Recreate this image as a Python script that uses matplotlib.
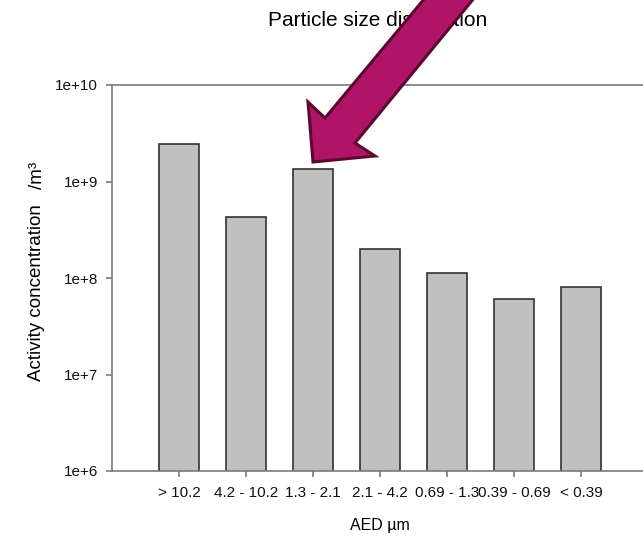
import matplotlib
matplotlib.use("Agg")
import matplotlib.pyplot as plt
from matplotlib.patches import Polygon
from matplotlib.transforms import Affine2D

plt.rcParams["font.family"] = ["Liberation Sans", "DejaVu Sans"]

categories = ["> 10.2", "4.2 - 10.2", "1.3 - 2.1", "2.1 - 4.2", "0.69 - 1.3", "0.39 - 0.69", "< 0.39"]
values = [2.45e9, 4.3e8, 1.35e9, 2.0e8, 1.13e8, 6.0e7, 8.1e7]
ytick_vals = [1e6, 1e7, 1e8, 1e9, 1e10]
ytick_labels = ["1e+6", "1e+7", "1e+8", "1e+9", "1e+10"]

W, H = 643, 538
fig = plt.figure(figsize=(W / 100, H / 100), dpi=100)
ax = fig.add_axes([112 / W, (H - 471) / H, 536 / W, 386 / H])

x = list(range(len(categories)))
ax.bar(x, values, width=0.61, color="#c0c0c0", edgecolor="#333333", linewidth=1.2, zorder=2)

ax.set_yscale("log")
ax.set_ylim(1e6, 1e10)
ax.set_xlim(-1, 7)
ax.set_yticks(ytick_vals)
ax.set_yticklabels(ytick_labels)
ax.minorticks_off()
ax.set_xticks(x)
ax.set_xticklabels(categories)

for s in ["left", "top", "bottom"]:
    ax.spines[s].set_color("#7a7a7a")
    ax.spines[s].set_linewidth(1.2)
ax.spines["right"].set_visible(False)
ax.tick_params(axis="both", colors="#7a7a7a", length=4.5, width=1.2, labelcolor="#111111", labelsize=11)
ax.tick_params(axis="y", pad=5.5)
ax.tick_params(axis="x", pad=6)

ax.set_xlabel("AED µm", fontsize=11.5, labelpad=13)
fig.text(37 / W, 1 - 293 / H, "Activity concentration", rotation=90,
         ha="center", va="center", fontsize=13.5)
fig.text(37 / W, 1 - 175 / H, "/m³", rotation=90, ha="center", va="center", fontsize=13.5)
fig.text(378 / W, 1 - 20 / H, "Particle size distribution", ha="center", va="center", fontsize=15)

# arrow annotation, in pixel coordinates (y measured from top)
px = Affine2D().scale(1 / W, -1 / H).translate(0, 1) + fig.transFigure
arrow = [(440, -20), (325, 118), (308, 102), (313, 162), (375, 156), (355, 143), (489, -20)]
fig.add_artist(Polygon(arrow, closed=True, transform=px, facecolor="#b01466",
                       edgecolor="#5a0a30", linewidth=2.2, zorder=10))

fig.savefig("out.png", dpi=100)
